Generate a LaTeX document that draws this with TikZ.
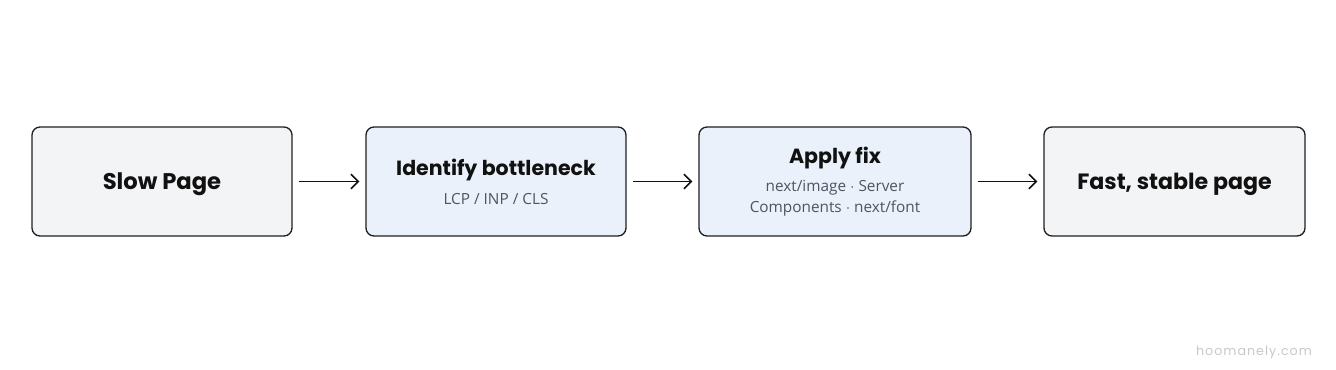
\documentclass[tikz,border=0pt]{standalone}
\usepackage{fontspec}
\usepackage{tikz,xcolor}
\usetikzlibrary{arrows.meta}
\setmainfont{Poppins}
\newfontfamily\subfont{Open Sans}
\newfontfamily\markfont[LetterSpace=8]{Poppins}
\definecolor{boxgray}{HTML}{F3F4F6}
\definecolor{boxblue}{HTML}{EBF1FA}
\definecolor{edgeline}{HTML}{1F1F1F}
\definecolor{titleink}{HTML}{111111}
\definecolor{subink}{HTML}{4B5563}
\definecolor{markink}{HTML}{C8C8C8}
\tikzset{
  stagebox/.style={draw=edgeline,line width=1pt,rounded corners=6pt,minimum height=81.75pt,align=center,text=titleink,font=\bfseries\fontsize{17}{20}\selectfont},
  endtitle/.style={text depth=0pt},
  midtitle/.style={font=\bfseries\fontsize{15.4}{15.75}\selectfont},
  grayfill/.style={fill=boxgray},
  bluefill/.style={fill=boxblue},
  flowarrow/.style={draw=titleink,line width=1.2pt,-{Straight Barb[length=5.5pt,width=11pt]},shorten <=4.5pt,shorten >=4.5pt},
}
\newcommand{\subline}[1]{{\subfont\mdseries\fontsize{11.5}{15.75}\selectfont\color{subink}#1}}
\begin{document}
\begin{tikzpicture}[x=0.75pt,y=0.75pt,yscale=-1,xscale=1]
\path [use as bounding box] (0,0) rectangle (1336,369); %set diagram size

% Stage boxes
\node [stagebox,grayfill,endtitle,minimum width=195pt] (slow) at (162,181.5) {Slow Page};
\node [stagebox,bluefill,midtitle,minimum width=195pt] (identify) at (496,181.5) {Identify bottleneck\\[6pt]\subline{LCP / INP / CLS}};
\node [stagebox,bluefill,midtitle,minimum width=204pt] (fix) at (835,181.5) {Apply fix\\[5pt]\subline{next/image $\cdot$ Server}\\\subline{Components $\cdot$ next/font}};
\node [stagebox,grayfill,endtitle,minimum width=195.75pt,font=\bfseries\fontsize{16.6}{20}\selectfont] (fast) at (1174.5,181.5) {Fast, stable page};

% Arrows
\draw [flowarrow] (slow) -- (identify);
\draw [flowarrow] (identify) -- (fix);
\draw [flowarrow] (fix) -- (fast);

% Text Node
\node [text=markink,font=\markfont\fontsize{9.5}{11}\selectfont] (mark) at (1254,352) {hoomanely.com};

\end{tikzpicture}
\end{document}
